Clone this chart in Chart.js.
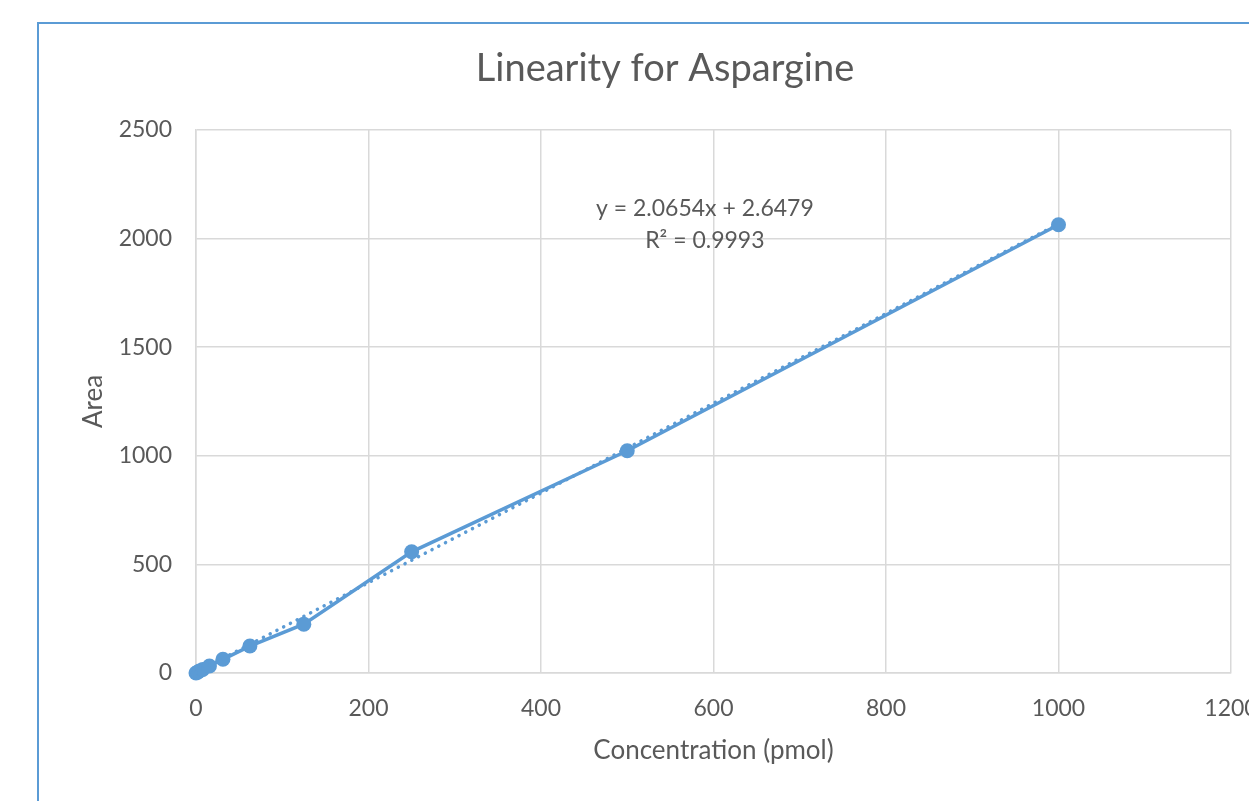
<!DOCTYPE html>
<html>
<head>
<meta charset="utf-8">
<script src="https://cdn.jsdelivr.net/npm/chart.js@4"></script>
<style>
  html, body { margin: 0; padding: 0; background: #fff; overflow: hidden; }
  #wrap { position: absolute; left: 0; top: 0; width: 1249px; height: 801px; }
  #frame { position: absolute; left: 37px; top: 22px; width: 1300px; height: 900px; border: 2px solid #5B9BD5; box-sizing: border-box; pointer-events: none; }
</style>
</head>
<body>
<div id="wrap">
  <canvas id="c" width="1249" height="801"></canvas>
  <div id="frame"></div>
</div>
<script>
// Data
const concentration = [0, 1.95, 3.9, 7.8, 15.6, 31.25, 62.5, 125, 250, 500, 1000];
const area = [0, 4, 9, 16, 32, 63, 124, 225, 558, 1023, 2064];
// Linear trendline endpoints (from the displayed equation)
const trendX = [0, 1000];
const trendY = [2.6, 2068.0];
const equationText = "y = 2.0654x + 2.6479";
const r2Text = "R\u00B2 = 0.9993";
const xTicks = [0, 200, 400, 600, 800, 1000, 1200];
const yTicks = [0, 500, 1000, 1500, 2000, 2500];

const FONT = "Lato";
const TEXT = "#595959";
const BLUE = "#5B9BD5";
const GRID = "#D9D9D9";

const mainPts = concentration.map((x, i) => ({ x, y: area[i] }));
const trendPts = trendX.map((x, i) => ({ x, y: trendY[i] }));

const labelPlugin = {
  id: "eqLabel",
  afterDatasetsDraw(chart) {
    const { ctx, scales } = chart;
    const cx = scales.x.getPixelForValue(590);
    ctx.save();
    ctx.font = "23px " + FONT;
    ctx.fillStyle = TEXT;
    ctx.textAlign = "center";
    ctx.textBaseline = "middle";
    ctx.fillText(equationText, cx, scales.y.getPixelForValue(2136));
    ctx.fillText(r2Text, cx, scales.y.getPixelForValue(1989));
    ctx.restore();
  }
};

const PAD_L = 99;

new Chart(document.getElementById("c"), {
  type: "scatter",
  data: {
    datasets: [
      {
        label: "Trend",
        data: trendPts,
        showLine: true,
        borderColor: BLUE,
        borderWidth: 3.5,
        borderDash: [0.1, 7.5],
        borderCapStyle: "round",
        pointRadius: 0,
        fill: false,
        clip: false
      },
      {
        label: "Area",
        data: mainPts,
        showLine: true,
        borderColor: BLUE,
        backgroundColor: BLUE,
        borderWidth: 3.5,
        pointRadius: 7.5,
        pointBackgroundColor: BLUE,
        pointBorderColor: BLUE,
        pointBorderWidth: 0,
        fill: false,
        clip: false
      }
    ]
  },
  options: {
    responsive: false,
    animation: false,
    layout: { padding: { left: PAD_L, right: 18, top: 0, bottom: 35 } },
    plugins: {
      legend: { display: false },
      tooltip: { enabled: false },
      title: {
        display: true,
        text: "Linearity for Aspargine",
        color: TEXT,
        font: { family: FONT, size: 38, weight: "normal" },
        padding: { top: 46, bottom: 38.4 }
      }
    },
    scales: {
      x: {
        type: "linear",
        min: 0, max: 1200,
        afterBuildTicks: (s) => { s.ticks = xTicks.map(v => ({ value: v })); },
        afterFit: (s) => { s.height = 801 - 673 - 35; s.paddingLeft = 0; s.paddingRight = 0; },
        grid: { color: GRID, lineWidth: 1.5, drawTicks: false },
        border: { color: GRID, width: 1.5 },
        ticks: { color: TEXT, font: { family: FONT, size: 23 }, padding: 22, maxRotation: 0, callback: (v) => String(v) },
        title: { display: true, text: "Concentration (pmol)", color: TEXT, font: { family: FONT, size: 26 }, padding: { top: 0, bottom: 0 } }
      },
      y: {
        type: "linear",
        min: 0, max: 2500,
        afterBuildTicks: (s) => { s.ticks = yTicks.map(v => ({ value: v })); },
        afterFit: (s) => { s.width = 196 - PAD_L; s.paddingTop = 0; s.paddingBottom = 0; },
        grid: { color: GRID, lineWidth: 1.5, drawTicks: false },
        border: { color: GRID, width: 1.5 },
        ticks: { color: TEXT, font: { family: FONT, size: 23 }, padding: 24, callback: (v) => String(v) },
        title: { display: true, text: "Area", color: TEXT, font: { family: FONT, size: 26 }, padding: { top: -21, bottom: 0 } }
      }
    }
  },
  plugins: [labelPlugin]
});
</script>
</body>
</html>
